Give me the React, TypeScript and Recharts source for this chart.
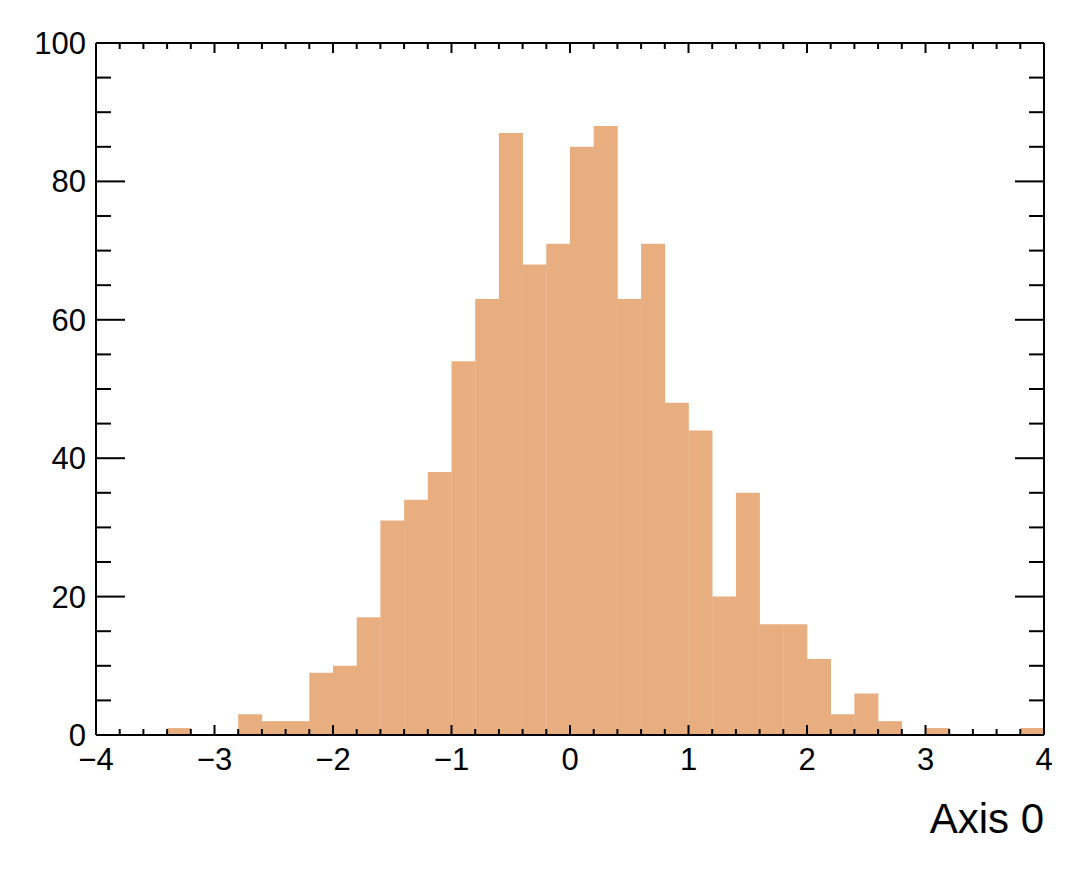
import React from "react";
import { BarChart, Bar, XAxis, YAxis } from "recharts";

// Histogram of 1000 entries, 40 bins of width 0.2 between -4 and 4
const binLow = -4;
const binWidth = 0.2;
const counts = [
  0, 0, 0, 1, 0, 0, 3, 2, 2, 9,
  10, 17, 31, 34, 38, 54, 63, 87, 68, 71,
  85, 88, 63, 71, 48, 44, 20, 35, 16, 16,
  11, 3, 6, 2, 0, 1, 0, 0, 0, 1,
];

const xMajorTicks = [-4, -3, -2, -1, 0, 1, 2, 3, 4];
const xMinorTicks = [
  -3.8, -3.6, -3.4, -3.2, -2.8, -2.6, -2.4, -2.2, -1.8, -1.6, -1.4, -1.2,
  -0.8, -0.6, -0.4, -0.2, 0.2, 0.4, 0.6, 0.8, 1.2, 1.4, 1.6, 1.8,
  2.2, 2.4, 2.6, 2.8, 3.2, 3.4, 3.6, 3.8,
];
const yMajorTicks = [0, 20, 40, 60, 80, 100];
const yMinorTicks = [5, 10, 15, 25, 30, 35, 45, 50, 55, 65, 70, 75, 85, 90, 95];

const xTitle = "Axis 0";

const data = counts.map((n, i) => ({
  x: binLow + binWidth * (i + 0.5),
  n,
}));

const FONT = "'Liberation Sans', Arial, Helvetica, sans-serif";
const W = 1084;
const H = 871;
const M = { top: 42, left: 95, right: 39, bottom: 135 };
const FRAME_TOP = M.top + 1;

const isMajor = (v: number, list: number[]) =>
  list.some((m) => Math.abs(m - v) < 1e-6);

const fmt = (v: number) => (v < 0 ? "\u2212" + Math.abs(v) : String(v));

// ticks point into the frame, mirrored on the top edge
const XTick = ({ x, y, payload }: any) => {
  const major = isMajor(payload.value, xMajorTicks);
  const len = major ? 10 : 6;
  return (
    <g>
      <line x1={x} x2={x} y1={y} y2={y - len} stroke="#000" strokeWidth={2} />
      <line x1={x} x2={x} y1={FRAME_TOP} y2={FRAME_TOP + len} stroke="#000" strokeWidth={2} />
      {major && (
        <text x={x} y={y + 35} textAnchor="middle" fontSize={31} fontFamily={FONT} fill="#000">
          {fmt(payload.value)}
        </text>
      )}
    </g>
  );
};

const YTick = ({ x, y, payload, side }: any) => {
  const major = isMajor(payload.value, yMajorTicks);
  const len = major ? 29 : 15;
  const dir = side === "left" ? 1 : -1;
  return (
    <g>
      <line x1={x} x2={x + dir * len} y1={y} y2={y} stroke="#000" strokeWidth={2} />
      {major && side === "left" && (
        <text x={x - 10} y={y + 11} textAnchor="end" fontSize={31} fontFamily={FONT} fill="#000">
          {payload.value}
        </text>
      )}
    </g>
  );
};

const allX = [...xMajorTicks, ...xMinorTicks].sort((a, b) => a - b);
const allY = [...yMajorTicks, ...yMinorTicks].sort((a, b) => a - b);

const axisLine = { stroke: "#000", strokeWidth: 2 };

export default function App() {
  return (
    <div style={{ position: "absolute", left: 0, top: 0, width: W, height: H, background: "#fff" }}>
      <BarChart width={W} height={H} data={data} margin={M} barCategoryGap={0} barGap={0}>
        <Bar dataKey="n" fill="#e8ae7f" isAnimationActive={false} />
        <XAxis
          dataKey="x"
          type="number"
          domain={[-4, 4]}
          allowDataOverflow
          ticks={allX}
          interval={0}
          height={1}
          tickSize={0}
          tickMargin={0}
          axisLine={axisLine}
          tickLine={false}
          tick={<XTick />}
        />
        <XAxis
          xAxisId="top"
          orientation="top"
          height={1}
          axisLine={axisLine}
          tickLine={false}
          tick={false}
        />
        <YAxis
          type="number"
          domain={[0, 100]}
          allowDataOverflow
          ticks={allY}
          interval={0}
          width={1}
          tickSize={0}
          tickMargin={0}
          axisLine={axisLine}
          tickLine={false}
          tick={<YTick side="left" />}
        />
        <YAxis
          yAxisId="right"
          orientation="right"
          type="number"
          domain={[0, 100]}
          allowDataOverflow
          ticks={allY}
          interval={0}
          width={1}
          tickSize={0}
          tickMargin={0}
          axisLine={axisLine}
          tickLine={false}
          tick={<YTick side="right" />}
        />
        <text x={1044} y={833} textAnchor="end" fontSize={42} fontFamily={FONT} fill="#000">
          {xTitle}
        </text>
      </BarChart>
    </div>
  );
}
